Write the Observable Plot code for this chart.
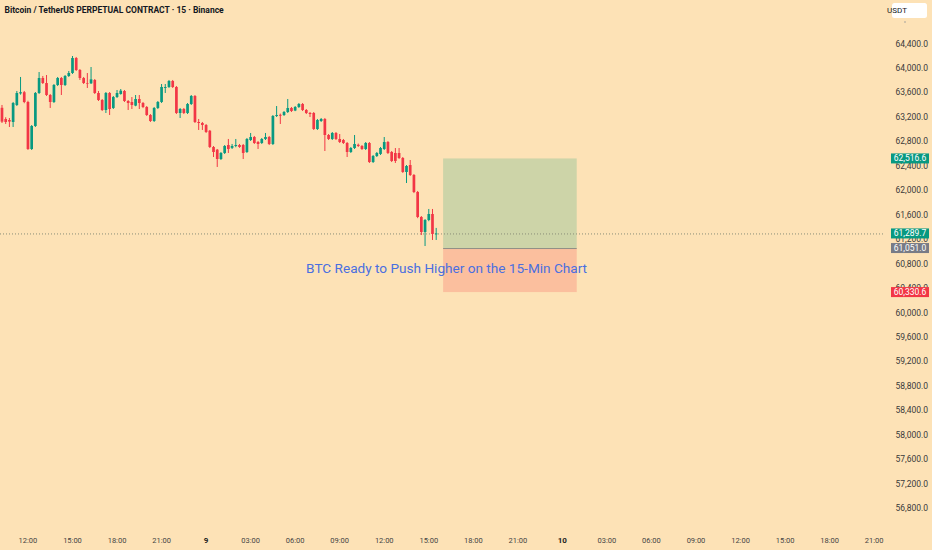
<!DOCTYPE html>
<html><head><meta charset="utf-8">
<script src="https://cdn.jsdelivr.net/npm/d3@7"></script>
<script src="https://cdn.jsdelivr.net/npm/@observablehq/plot@0.6"></script>
<style>
html,body{margin:0;padding:0;background:#fde2b6;}
#chart svg{display:block}
</style></head><body><div id="chart"></div>
<script>
const title = "Bitcoin / TetherUS PERPETUAL CONTRACT · 15 · Binance";
const currency = "USDT";
const firstBar = new Date("2024-08-08T10:15:00Z");
const barMinutes = 15;
const opens = [63345,63162,63145,63113,63391,63580,63600,63440,62671,63047,63587,63832,63750,63554,63440,63718,63832,63718,63865,63914,64159,63963,63832,63750,63745,63800,63587,63472,63309,63587,63342,63521,63571,63620,63456,63440,63380,63489,63423,63358,63227,63129,63342,63440,63670,63685,63783,63685,63260,63325,63260,63407,63538,63113,63096,63063,62970,62704,62660,62507,62606,62736,62690,62720,62736,62736,62622,62818,62867,62785,62769,62835,62867,62753,63211,63230,63227,63276,63342,63300,63358,63407,63309,63260,63260,62998,63129,63162,62900,62835,62933,62835,62818,62769,62622,62687,62740,62720,62671,62769,62458,62556,62590,62671,62785,62622,62606,62606,62524,62295,62409,62246,61968,61559,61313,61510,61608,61275];
const highs = [63391,63190,63178,63440,63620,63849,63620,63460,63063,63603,63930,63865,63881,63571,63734,63849,63849,63881,63947,64192,64176,63979,63849,63914,64012,63816,63620,63489,63603,63603,63538,63636,63652,63636,63472,63521,63554,63554,63440,63374,63243,63358,63456,63734,63734,63800,63800,63701,63342,63342,63423,63554,63554,63162,63113,63080,62982,62720,62671,62622,62736,62835,62753,62835,62753,62753,62851,62933,62884,62802,62851,62933,62884,63227,63374,63250,63292,63489,63358,63374,63423,63423,63325,63276,63276,63162,63178,63178,62916,62949,62949,62916,62835,62785,62704,62900,62760,62736,62785,62785,62573,62622,62704,62867,62802,62638,62687,62687,62540,62409,62491,62262,61984,61575,61526,61690,61690,61380];
const lows = [63096,63080,63031,63031,63374,63560,63420,62655,62655,63031,63571,63734,63538,63342,63423,63701,63554,63701,63849,63898,63947,63800,63734,63669,63734,63571,63456,63292,63260,63227,63325,63505,63560,63440,63309,63325,63370,63325,63340,63211,63113,63113,63325,63423,63587,63669,63669,63243,63178,63243,63243,63391,63096,62982,62982,62933,62687,62540,62377,62491,62589,62606,62671,62700,62690,62507,62606,62802,62753,62671,62753,62818,62736,62736,63194,63080,63211,63260,63276,63290,63342,63292,63243,63194,62982,62982,63113,62638,62818,62818,62818,62769,62753,62540,62606,62671,62704,62655,62655,62442,62442,62540,62573,62655,62589,62458,62442,62507,62280,62115,62230,61950,61540,61264,61084,61490,61183,61183];
const closes = [63118,63113,63120,63423,63587,63600,63440,62671,63047,63587,63832,63750,63554,63440,63718,63832,63718,63865,63914,64159,63963,63832,63750,63740,63810,63587,63472,63309,63587,63325,63521,63587,63625,63456,63423,63391,63489,63423,63358,63227,63129,63342,63440,63685,63685,63783,63685,63260,63325,63260,63407,63538,63113,63096,63063,62949,62704,62622,62507,62606,62720,62671,62720,62736,62704,62606,62835,62867,62769,62753,62835,62867,62753,63211,63227,63215,63276,63342,63292,63358,63407,63309,63260,63243,62998,63145,63162,62900,62835,62933,62835,62785,62769,62622,62687,62753,62720,62671,62769,62458,62556,62606,62687,62785,62606,62475,62475,62524,62295,62393,62246,61968,61559,61313,61510,61608,61281,61289.7];
const yTicks = [56800,57200,57600,58000,58400,58800,59200,59600,60000,60400,60800,61200,61600,62000,62400,62800,63200,63600,64000,64400];
const targetPrice = 62516.6, entryPrice = 61051.0, stopPrice = 60330.6;
const positionStart = new Date("2024-08-09T16:00:00Z");
const positionEnd = new Date("2024-08-10T01:00:00Z");
const noteText = "BTC Ready to Push Higher on the 15-Min Chart";
const noteTime = new Date("2024-08-09T16:12:00Z");
const notePrice = 60725;
const yDomain = [56472, 65108];

const up = "#089981", down = "#f23645";
const bars = opens.map((o, i) => ({
  t: d3.utcMinute.offset(firstBar, barMinutes * i),
  o, h: highs[i], l: lows[i], c: closes[i],
  col: closes[i] >= o ? up : down
}));
const lastPrice = closes[closes.length - 1];
const xDomain = [d3.utcMinute.offset(firstBar, -0.4 * barMinutes), d3.utcMinute.offset(firstBar, 238.1 * barMinutes)];
const threeH = d3.utcHour.every(3).range(xDomain[0], xDomain[1]);
const hourTicks = threeH.filter(d => d.getUTCHours() !== 0);
const dayTicks = threeH.filter(d => d.getUTCHours() === 0);
const font = "Roboto, 'Liberation Sans', sans-serif";

const chart = Plot.plot({
  width: 932, height: 550,
  marginLeft: 0, marginRight: 47, marginTop: 0, marginBottom: 22,
  style: {background: "#fde2b6", fontFamily: font},
  x: {type: "utc", domain: xDomain, label: null},
  y: {domain: yDomain, label: null},
  marks: [
    Plot.rect([0], {x1: () => positionStart, x2: () => positionEnd, y1: () => entryPrice, y2: () => targetPrice, fill: "#cdd4a8"}),
    Plot.rect([0], {x1: () => positionStart, x2: () => positionEnd, y1: () => stopPrice, y2: () => entryPrice, fill: "#fbbf9e"}),
    Plot.ruleY([entryPrice], {x1: positionStart, x2: positionEnd, stroke: "#8f8f86", strokeWidth: 1}),
    Plot.ruleY([lastPrice], {stroke: "#8a8d78", strokeDasharray: "1,2", strokeWidth: 1}),
    Plot.ruleX(bars, {x: "t", y1: "l", y2: "h", stroke: "col", strokeWidth: 1}),
    Plot.ruleX(bars, {x: "t", y1: "o", y2: "c", stroke: "col", strokeWidth: 2.7}),
    Plot.text([noteText], {x: () => noteTime, y: () => notePrice, text: d => d, fill: "#4a6fe0", fontSize: 13.6, textAnchor: "middle", fontFamily: font}),
    Plot.axisY({anchor: "right", ticks: yTicks, tickSize: 0, tickPadding: 10, tickFormat: d3.format(",.1f"), fontSize: 8.5, fill: "#3a3a3a", textAnchor: "start", label: null}),
    Plot.axisX({ticks: hourTicks, tickSize: 0, tickPadding: 9, tickFormat: d3.utcFormat("%H:%M"), fontSize: 7.5, fill: "#444", label: null}),
    Plot.axisX({ticks: dayTicks, tickSize: 0, tickPadding: 9, tickFormat: d3.utcFormat("%-d"), fontSize: 8, fontWeight: "bold", fill: "#222", label: null}),
    Plot.text([title], {frameAnchor: "top-left", dx: 4, dy: 6, text: d => d, fontSize: 8.5, fontWeight: "bold", fill: "#131722", lineAnchor: "top"})
  ]
});

const svg = d3.select(chart);
const ys = chart.scale("y");
const badges = [
  {p: targetPrice, color: up},
  {p: lastPrice, color: up},
  {p: entryPrice, color: "#787b86"},
  {p: stopPrice, color: down}
];
for (const b of badges) {
  const yy = ys.apply(b.p);
  svg.append("rect").attr("x", 891).attr("y", yy - 5).attr("width", 38).attr("height", 10).attr("fill", b.color);
  svg.append("text").attr("x", 910).attr("y", yy).attr("dy", "0.35em").attr("text-anchor", "middle")
    .attr("fill", "#fff").attr("font-size", 8.5).attr("font-family", font).text(d3.format(",.1f")(b.p));
}
svg.append("rect").attr("x", 892).attr("y", 3).attr("width", 35).attr("height", 15).attr("rx", 2.5).attr("fill", "#fff");
svg.append("text").attr("x", 897).attr("y", 10.5).attr("dy", "0.35em").attr("fill", "#131722")
  .attr("font-size", 8).attr("font-family", font).text(currency);
svg.append("circle").attr("cx", 905).attr("cy", 22).attr("r", 0.8).attr("fill", "#999");

document.getElementById("chart").appendChild(chart);
</script></body></html>
